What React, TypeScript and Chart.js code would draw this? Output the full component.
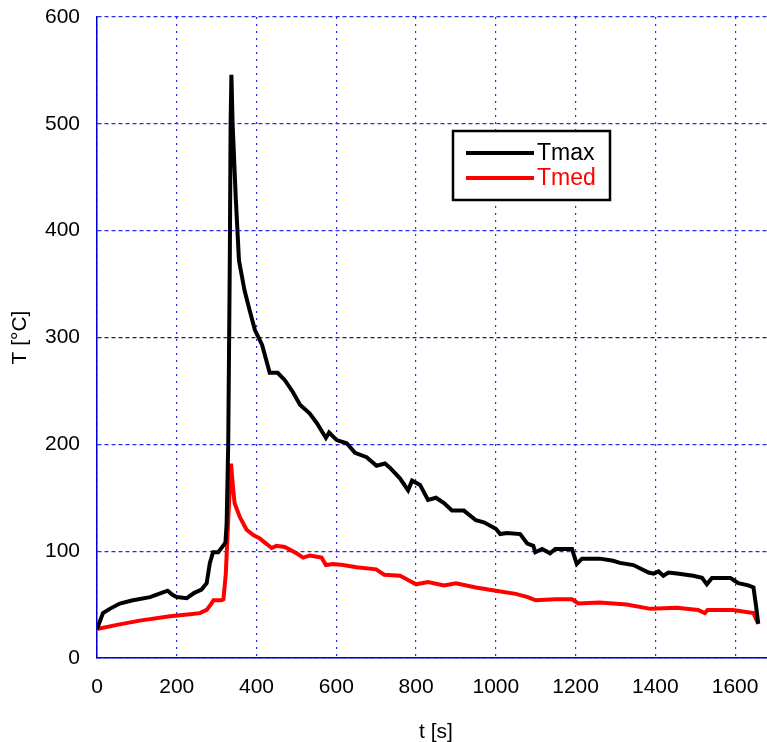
import React, { useEffect, useRef } from "react";
import { Chart, registerables } from "chart.js";

Chart.register(...registerables);

// Tmax series (time s, temperature °C)
const tmaxTime = [0, 15, 32, 57, 90, 133, 162, 177, 190, 200, 225, 244, 262, 275, 283, 291, 304, 316, 322, 325, 329, 333, 335, 337, 340, 348, 356, 370, 383, 396, 414, 433, 453, 471, 491, 509, 533, 551, 574, 582, 601, 626, 647, 676, 701, 722, 735, 760, 780, 790, 810, 830, 850, 870, 890, 920, 950, 970, 1000, 1011, 1028, 1061, 1079, 1094, 1099, 1116, 1136, 1149, 1191, 1203, 1216, 1261, 1294, 1311, 1345, 1383, 1396, 1408, 1420, 1433, 1454, 1495, 1517, 1529, 1542, 1588, 1596, 1608, 1633, 1646, 1652, 1658];
const tmaxValues = [27, 42, 46, 51, 54, 57, 61, 63, 59, 57, 56, 61, 64, 70, 89, 99, 99, 105, 108, 125, 200, 372, 500, 546, 500, 430, 372, 344, 325, 307, 293, 267, 267, 260, 249, 237, 229, 220, 206, 211, 204, 201, 192, 188, 180, 182, 178, 168, 157, 166, 162, 148, 150, 145, 138, 138, 129, 127, 121, 116, 117, 116, 107, 105, 99, 102, 98, 102, 102, 88, 93, 93, 91, 89, 87, 80, 79, 81, 77, 80, 79, 77, 75, 69, 75, 75, 73, 70, 68, 66, 50, 32];

// Tmed series
const tmedTime = [0, 50, 107, 183, 233, 258, 275, 285, 292, 312, 317, 323, 329, 336, 341, 345, 358, 375, 392, 408, 421, 438, 450, 471, 500, 517, 534, 563, 574, 592, 617, 651, 700, 720, 760, 780, 800, 830, 870, 900, 950, 1000, 1050, 1080, 1100, 1150, 1191, 1207, 1260, 1328, 1388, 1454, 1507, 1524, 1531, 1594, 1646, 1658];
const tmedValues = [27, 31, 35, 39, 41, 42, 45, 50, 54, 54, 55, 79, 129, 182, 160, 145, 132, 120, 115, 112, 108, 103, 105, 104, 98, 94, 96, 94, 87, 88, 87, 85, 83, 78, 77, 73, 69, 71, 68, 70, 66, 63, 60, 57, 54, 55, 55, 51, 52, 50, 46, 47, 45, 42, 45, 45, 42, 32];

const seriesNames = ["Tmax", "Tmed"];
const xTitle = "t [s]";
const yTitle = "T [°C]";
const xMin = 0, xMax = 1700, xStep = 200;
const yMin = 0, yMax = 600, yStep = 100;

const FONT = "'Liberation Sans', Arial, sans-serif";

const legendPlugin = {
  id: "boxLegend",
  afterDraw(chart: any) {
    const ctx = chart.ctx;
    ctx.save();
    ctx.fillStyle = "#ffffff";
    ctx.fillRect(453, 131, 157, 69);
    ctx.strokeStyle = "#000000";
    ctx.lineWidth = 2.5;
    ctx.strokeRect(453, 131, 157, 69);
    const items = [
      { name: seriesNames[0], color: "#000000", y: 153 },
      { name: seriesNames[1], color: "#ff0000", y: 178 },
    ];
    ctx.font = `23px ${FONT}`;
    ctx.textBaseline = "middle";
    ctx.textAlign = "left";
    for (const it of items) {
      ctx.strokeStyle = it.color;
      ctx.lineWidth = 4;
      ctx.beginPath();
      ctx.moveTo(466, it.y);
      ctx.lineTo(534, it.y);
      ctx.stroke();
      ctx.fillStyle = it.color;
      ctx.fillText(it.name, 537, it.y + 1);
    }
    ctx.restore();
  },
};

export default function App() {
  const ref = useRef<HTMLCanvasElement | null>(null);
  useEffect(() => {
    if (!ref.current) return;
    const chart = new Chart(ref.current, {
      type: "line",
      data: {
        datasets: [
          {
            label: seriesNames[0],
            data: tmaxTime.map((t, i) => ({ x: t, y: tmaxValues[i] })),
            borderColor: "#000000",
            borderWidth: 4,
            pointRadius: 0,
            tension: 0,
          },
          {
            label: seriesNames[1],
            data: tmedTime.map((t, i) => ({ x: t, y: tmedValues[i] })),
            borderColor: "#ff0000",
            borderWidth: 4,
            pointRadius: 0,
            tension: 0,
          },
        ],
      },
      options: {
        animation: false,
        responsive: false,
        maintainAspectRatio: false,
        layout: { padding: { left: 0, right: 25, top: 17, bottom: 0 } },
        plugins: { legend: { display: false }, tooltip: { enabled: false } },
        scales: {
          x: {
            type: "linear",
            min: xMin,
            max: xMax,
            afterBuildTicks: (s: any) => {
              const ticks: any[] = [];
              for (let v = xMin; v <= xMax; v += xStep) ticks.push({ value: v });
              s.ticks = ticks;
            },
            afterFit: (s: any) => {
              s.height = 84;
              s.paddingLeft = 0;
              s.paddingRight = 0;
            },
            ticks: {
              stepSize: xStep,
              autoSkip: false,
              callback: (v: any) => String(v),
              color: "#000",
              font: { family: FONT, size: 21 },
              padding: 17,
              maxRotation: 0,
            },
            grid: {
              color: "#2a2aee",
              lineWidth: 1.2,
              drawTicks: false,
            },
            border: { color: "#0000cc", width: 1.5, dash: [2, 5] },
            title: {
              display: true,
              text: xTitle,
              color: "#000",
              font: { family: FONT, size: 21, lineHeight: 1 },
              padding: { top: 0, bottom: -1 },
            },
          },
          y: {
            min: yMin,
            max: yMax,
            afterFit: (s: any) => {
              s.width = 97;
              s.paddingTop = 0;
              s.paddingBottom = 0;
            },
            ticks: {
              stepSize: yStep,
              callback: (v: any) => String(v),
              color: "#000",
              font: { family: FONT, size: 21 },
              padding: 17,
            },
            grid: {
              color: (c: any) => (c.tick && c.tick.value === 300 ? "#1a1a70" : "#2a2aee"),
              lineWidth: 1.2,
              drawTicks: false,
            },
            border: { color: "#0000cc", width: 1.5, dash: [4, 3] },
            title: {
              display: true,
              text: yTitle,
              color: "#000",
              font: { family: FONT, size: 21, lineHeight: 1 },
              padding: { top: 10, bottom: 0 },
            },
          },
        },
      },
      plugins: [legendPlugin],
    });
    return () => chart.destroy();
  }, []);
  return (
    <div
      style={{
        position: "fixed",
        left: 0,
        top: 0,
        width: 767,
        height: 742,
        overflow: "hidden",
        background: "#fff",
      }}
    >
      <canvas ref={ref} width={800} height={742} style={{ display: "block", width: 800, height: 742 }} />
    </div>
  );
}
